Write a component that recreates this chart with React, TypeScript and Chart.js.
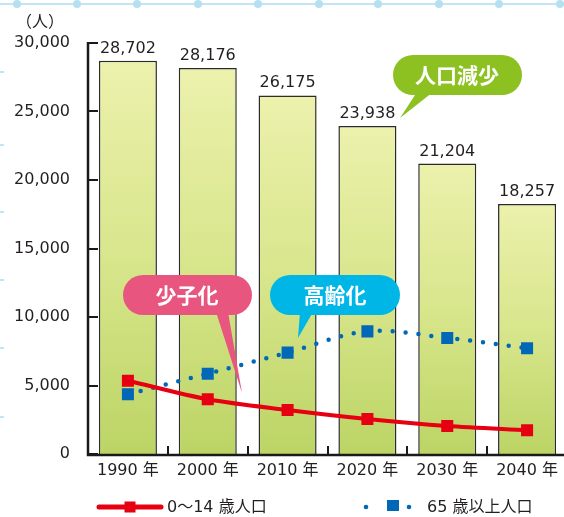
import React, { useEffect, useRef } from 'react';
import { Chart, registerables } from 'chart.js';

Chart.register(...registerables);

const years = ['1990 年', '2000 年', '2010 年', '2020 年', '2030 年', '2040 年'];
const totalPopulation = [28702, 28176, 26175, 23938, 21204, 18257];
const childPopulation = [5350, 3990, 3210, 2550, 2040, 1730];
const elderlyPopulation = [4360, 5860, 7400, 8950, 8470, 7720];
const yTicks = [0, 5000, 10000, 15000, 20000, 25000, 30000];

const FONT = '"DejaVu Sans", "Noto Sans CJK JP", sans-serif';
const CJK = '"Noto Sans CJK JP", sans-serif';
const TEXT = '#231f20';
const RED = '#e60012';
const BLUE = '#0068b7';

function fmt(v: number) {
  return v.toLocaleString('en-US');
}

function drawBubble(
  ctx: CanvasRenderingContext2D,
  x1: number, y1: number, x2: number, y2: number,
  tail: [number, number, number, number],
  color: string, text: string, tx: number, ty: number
) {
  ctx.save();
  ctx.fillStyle = color;
  const r = (y2 - y1) / 2;
  ctx.beginPath();
  ctx.roundRect(x1, y1, x2 - x1, y2 - y1, r);
  ctx.fill();
  ctx.beginPath();
  ctx.moveTo(tail[0], y2 - 3);
  ctx.lineTo(tail[1], y2 - 3);
  ctx.lineTo(tail[2], tail[3]);
  ctx.closePath();
  ctx.fill();
  ctx.fillStyle = '#ffffff';
  ctx.font = `bold 21px ${CJK}`;
  ctx.textAlign = 'center';
  ctx.textBaseline = 'middle';
  ctx.fillText(text, tx, ty);
  ctx.restore();
}

const decorPlugin = {
  id: 'decor',
  beforeDraw(chart: any) {
    const ctx = chart.ctx as CanvasRenderingContext2D;
    ctx.save();
    ctx.fillStyle = '#ffffff';
    ctx.fillRect(0, 0, chart.width, chart.height);
    ctx.strokeStyle = '#c2e5f4';
    ctx.lineWidth = 2;
    ctx.beginPath();
    ctx.moveTo(0, 4);
    ctx.lineTo(chart.width, 4);
    ctx.stroke();
    ctx.fillStyle = '#b5e0f2';
    [17, 77, 137, 198, 258, 319, 378, 439, 499, 560].forEach((x) => {
      ctx.beginPath();
      ctx.arc(x, 4, 4, 0, Math.PI * 2);
      ctx.fill();
    });
    ctx.strokeStyle = '#c2e5f4';
    [72, 145, 212, 280, 348, 417].forEach((y) => {
      ctx.beginPath();
      ctx.moveTo(0, y);
      ctx.lineTo(4, y);
      ctx.stroke();
    });
    ctx.fillStyle = TEXT;
    ctx.font = `16px ${CJK}`;
    ctx.textAlign = 'center';
    ctx.textBaseline = 'middle';
    ctx.fillText('（人）', 40, 21);
    ctx.restore();
  },
  afterDatasetDraw(chart: any, args: any) {
    if (args.index !== 0) return;
    const ctx = chart.ctx as CanvasRenderingContext2D;
    const meta = chart.getDatasetMeta(0);
    ctx.save();
    ctx.fillStyle = TEXT;
    ctx.font = `16px ${FONT}`;
    ctx.textAlign = 'center';
    ctx.textBaseline = 'alphabetic';
    meta.data.forEach((bar: any, i: number) => {
      ctx.fillText(fmt(totalPopulation[i]), bar.x, bar.y - 8);
    });
    ctx.restore();
    drawBubble(ctx, 393, 55, 522, 95, [417, 433, 400, 118], '#8cc121', '人口減少', 457, 75);
    drawBubble(ctx, 123, 275, 252, 315, [216, 228, 242, 393], '#e8557f', '少子化', 187, 295);
    drawBubble(ctx, 270, 275, 400, 315, [300, 313, 298, 338], '#00b6e6', '高齢化', 335, 295);
  },
  afterDatasetsDraw(chart: any) {
    const ctx = chart.ctx as CanvasRenderingContext2D;
    const { chartArea } = chart;
    const y = chart.scales.y;
    const x = chart.scales.x;
    ctx.save();
    ctx.strokeStyle = '#1a1a1a';
    ctx.lineWidth = 2.5;
    ctx.beginPath();
    ctx.moveTo(chartArea.left, chartArea.top - 1);
    ctx.lineTo(chartArea.left, chartArea.bottom + 1);
    ctx.lineTo(chartArea.right, chartArea.bottom + 1);
    ctx.stroke();
    ctx.lineWidth = 2;
    yTicks.forEach((v) => {
      const py = Math.round(y.getPixelForValue(v));
      ctx.beginPath();
      ctx.moveTo(chartArea.left, py);
      ctx.lineTo(chartArea.left + 10, py);
      ctx.stroke();
    });
    for (let i = 0; i < years.length - 1; i++) {
      const px = Math.round((x.getPixelForValue(i) + x.getPixelForValue(i + 1)) / 2);
      ctx.beginPath();
      ctx.moveTo(px, chartArea.bottom);
      ctx.lineTo(px, chartArea.bottom - 8);
      ctx.stroke();
    }
    ctx.restore();
  },
  afterDraw(chart: any) {
    const ctx = chart.ctx as CanvasRenderingContext2D;
    ctx.save();
    ctx.strokeStyle = RED;
    ctx.lineWidth = 5;
    ctx.lineCap = 'round';
    ctx.beginPath();
    ctx.moveTo(99, 507);
    ctx.lineTo(161, 507);
    ctx.stroke();
    ctx.fillStyle = RED;
    ctx.fillRect(124.5, 501.5, 11, 11);
    ctx.fillStyle = BLUE;
    ctx.beginPath();
    ctx.arc(366, 507, 2.3, 0, Math.PI * 2);
    ctx.fill();
    ctx.beginPath();
    ctx.arc(409, 507, 2.3, 0, Math.PI * 2);
    ctx.fill();
    ctx.fillRect(387, 500, 12, 11);
    ctx.fillStyle = TEXT;
    ctx.font = `16px ${FONT}`;
    ctx.textAlign = 'left';
    ctx.textBaseline = 'middle';
    ctx.fillText('0～14 歳人口', 167, 508);
    ctx.fillText('65 歳以上人口', 427, 508);
    ctx.restore();
  },
};

export default function App() {
  const ref = useRef<HTMLCanvasElement>(null);
  useEffect(() => {
    const chart = new Chart(ref.current!, {
      type: 'bar',
      data: {
        labels: years,
        datasets: [
          {
            type: 'bar',
            label: '総人口',
            data: totalPopulation,
            order: 3,
            borderColor: '#2b2b2b',
            borderWidth: 1.5,
            barPercentage: 0.727,
            categoryPercentage: 1,
            backgroundColor: (c: any) => {
              const chart = c.chart;
              if (!chart.chartArea || c.raw == null) return '#d6e48a';
              const ys = chart.scales.y;
              const top = ys.getPixelForValue(c.raw);
              const bottom = ys.getPixelForValue(0);
              const g = chart.ctx.createLinearGradient(0, top, 0, bottom);
              g.addColorStop(0, '#ecf1ac');
              g.addColorStop(0.5, '#d8e68c');
              g.addColorStop(1, '#bcd465');
              return g;
            },
          } as any,
          {
            type: 'line',
            label: '65 歳以上人口',
            data: elderlyPopulation,
            order: 2,
            borderColor: BLUE,
            borderWidth: 4.5,
            borderDash: [0, 13],
            borderCapStyle: 'round',
            tension: 0.35,
            pointStyle: 'rect',
            pointRadius: 8.5,
            pointBorderWidth: 0,
            pointBackgroundColor: BLUE,
            pointBorderColor: BLUE,
          } as any,
          {
            type: 'line',
            label: '0～14 歳人口',
            data: childPopulation,
            order: 1,
            borderColor: RED,
            borderWidth: 4,
            tension: 0.3,
            pointStyle: 'rect',
            pointRadius: 8.5,
            pointBorderWidth: 0,
            pointBackgroundColor: RED,
            pointBorderColor: RED,
          } as any,
        ],
      },
      options: {
        responsive: false,
        animation: false,
        devicePixelRatio: 1,
        layout: { autoPadding: false, padding: { top: 43, left: 0, right: 0, bottom: 0 } },
        plugins: {
          legend: { display: false },
          tooltip: { enabled: false },
        },
        scales: {
          x: {
            grid: { display: false, drawTicks: false },
            border: { display: false },
            ticks: { color: TEXT, font: { family: FONT, size: 16 }, padding: 7, maxRotation: 0 },
            afterFit: (s: any) => { s.height = 63; s.paddingLeft = 0; s.paddingRight = 0; },
          },
          y: {
            min: 0,
            max: 30000,
            grid: { display: false, drawTicks: false },
            border: { display: false },
            ticks: {
              stepSize: 5000,
              color: TEXT,
              padding: 18,
              font: { family: FONT, size: 16 },
              callback: (v: any) => fmt(Number(v)),
            },
            afterFit: (s: any) => { s.width = 88; s.paddingTop = 0; s.paddingBottom = 0; },
          },
        },
      } as any,
      plugins: [decorPlugin],
    });
    return () => chart.destroy();
  }, []);
  return (
    <div style={{ position: 'absolute', left: 0, top: 0, width: 564, height: 517, overflow: 'hidden', background: '#fff' }}>
      <canvas ref={ref} width={567} height={517} style={{ display: 'block', width: 567, height: 517 }} />
    </div>
  );
}
